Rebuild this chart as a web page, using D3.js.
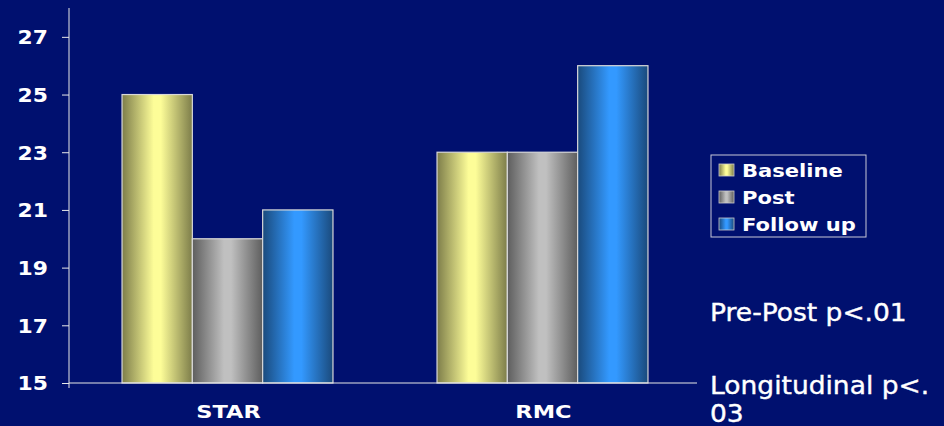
<!DOCTYPE html>
<html><head><meta charset="utf-8">
<script src="https://cdn.jsdelivr.net/npm/d3@7"></script>
<style>body{margin:0;background:#00106f;}svg{display:block;}</style>
</head><body>
<script>
const categories = ["STAR", "RMC"];
const seriesNames = ["Baseline", "Post", "Follow up"];
const baseline = [25, 23];
const post = [20, 23];
const followUp = [21, 26];
const yTicks = [15, 17, 19, 21, 23, 25, 27];
const notes = ["Pre-Post p<.01", "Longitudinal p<.", "03"];

const W = 944, H = 426;
const svg = d3.select("body").append("svg").attr("width", W).attr("height", H);
svg.append("rect").attr("width", W).attr("height", H).attr("fill", "#00106f");

// stretch text horizontally to mimic a wide bold face (Verdana-like)
function widen(sel, factor) {
  sel.each(function () {
    const w = this.getComputedTextLength();
    d3.select(this).attr("textLength", w * factor).attr("lengthAdjust", "spacingAndGlyphs");
  });
}

const gradStops = [
  ["#7d7d4a", "#fdfd98", "#7d7d4a"],
  ["#5e5e5e", "#c0c0c0", "#5e5e5e"],
  ["#1a4a7c", "#3399ff", "#1a4a7c"]
];
const defs = svg.append("defs");
gradStops.forEach((s, i) => {
  const g = defs.append("linearGradient").attr("id", "g" + i).attr("x1", "0").attr("x2", "1").attr("y1", "0").attr("y2", "0");
  g.append("stop").attr("offset", "0%").attr("stop-color", s[0]);
  g.append("stop").attr("offset", "45%").attr("stop-color", s[1]);
  g.append("stop").attr("offset", "55%").attr("stop-color", s[1]);
  g.append("stop").attr("offset", "100%").attr("stop-color", s[2]);
});

const pLeft = 69, pRight = 697, pTop = 8, pBottom = 383;
const y = d3.scaleLinear().domain([15, 28]).range([pBottom, pTop]);
const x0 = d3.scaleBand().domain(categories).range([pLeft + 1, pRight + 3]).paddingInner(0).paddingOuter(0);
const x1 = d3.scaleBand().domain(seriesNames).range([0, x0.bandwidth()]).paddingInner(0).paddingOuter(0.74);

const series = [baseline, post, followUp];
const g = svg.append("g");
categories.forEach((c, ci) => {
  seriesNames.forEach((s, si) => {
    g.append("rect")
      .attr("x", x0(c) + x1(s))
      .attr("y", y(series[si][ci]))
      .attr("width", x1.bandwidth())
      .attr("height", y(15) - y(series[si][ci]))
      .attr("fill", "url(#g" + si + ")")
      .attr("stroke", "#d8d8d8").attr("stroke-width", 1.2);
  });
});

// y axis
const yAxis = d3.axisLeft(y).tickValues(yTicks).tickSize(7).tickPadding(14).tickFormat(d3.format("d"));
const ya = svg.append("g").attr("transform", `translate(${pLeft},0)`).call(yAxis);
ya.select(".domain").attr("stroke", "#e8e8e8").attr("d", `M-0,${pTop}V${pBottom + 5}`);
ya.selectAll(".tick line").attr("stroke", "#e8e8e8");
const yt = ya.selectAll(".tick text").attr("fill", "#ffffff").attr("font-family", "DejaVu Sans, Verdana, sans-serif")
  .attr("font-weight", "bold").attr("font-size", "19px").attr("dy", "0.36em");
widen(yt, 1.15);

// x axis
const xa = svg.append("g").attr("transform", `translate(0,${pBottom})`);
xa.append("line").attr("x1", pLeft).attr("x2", pRight).attr("stroke", "#e8e8e8");
const xt = xa.selectAll("text.cat").data(categories).join("text").attr("class", "cat")
  .attr("x", c => x0(c) + x0.bandwidth() / 2 + 1).attr("y", 35)
  .attr("text-anchor", "middle").attr("fill", "#fff")
  .attr("font-family", "DejaVu Sans, Verdana, sans-serif").attr("font-weight", "bold").attr("font-size", "18px")
  .text(c => c);
widen(xt, 1.25);

// legend
const lg = svg.append("g").attr("transform", "translate(711,155)");
lg.append("rect").attr("width", 155).attr("height", 82).attr("fill", "none").attr("stroke", "#c8c8d8").attr("stroke-width", 1);
seriesNames.forEach((s, i) => {
  lg.append("rect").attr("x", 8).attr("y", 9 + i * 27).attr("width", 15).attr("height", 12)
    .attr("fill", "url(#g" + i + ")").attr("stroke", "#ccc").attr("stroke-width", 0.8);
});
const lt = lg.selectAll("text.leg").data(seriesNames).join("text").attr("class", "leg")
  .attr("x", 31).attr("y", (d, i) => 22 + i * 27).attr("fill", "#fff")
  .attr("font-family", "DejaVu Sans, Verdana, sans-serif").attr("font-weight", "bold").attr("font-size", "18px")
  .text(d => d);
widen(lt, 1.17);

// notes
const noteY = [321, 394, 422];
const nt = svg.selectAll("text.note").data(notes).join("text").attr("class", "note")
  .attr("x", 710).attr("y", (d, i) => noteY[i]).attr("fill", "#fff")
  .attr("font-family", "DejaVu Sans, Tahoma, sans-serif").attr("font-size", "25px")
  .attr("stroke", "#fff").attr("stroke-width", 0.4).text(d => d);
widen(nt, 1.06);
</script>
</body></html>
